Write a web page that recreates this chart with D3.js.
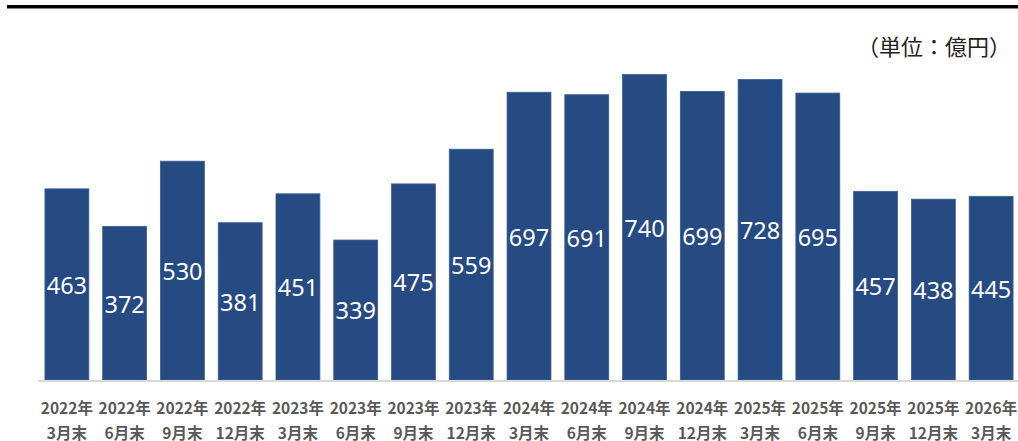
<!DOCTYPE html>
<html>
<head>
<meta charset="utf-8">
<script src="https://cdn.jsdelivr.net/npm/d3@7"></script>
<style>
  html, body { margin: 0; padding: 0; background: #fff; }
  svg { display: block; }
</style>
</head>
<body>
<svg id="chart" width="1018" height="441"></svg>
<script>
// Quarter-end balances (億円)
const years = ["2022年","2022年","2022年","2022年","2023年","2023年","2023年","2023年",
               "2024年","2024年","2024年","2024年","2025年","2025年","2025年","2025年","2026年"];
const months = ["3月末","6月末","9月末","12月末","3月末","6月末","9月末","12月末",
                "3月末","6月末","9月末","12月末","3月末","6月末","9月末","12月末","3月末"];
const values = [463,372,530,381,451,339,475,559,697,691,740,699,728,695,457,438,445];
const unitLabel = "（単位：億円）";

const svg = d3.select("#chart");
const W = 1018, H = 441;
const baseY = 380;

const keys = values.map((_, i) => i);

const x = d3.scaleBand()
  .domain(keys)
  .range([38, 1020])
  .paddingInner(0.24)
  .paddingOuter(0.12);

const y = d3.scaleLinear()
  .domain([0, 740])
  .range([baseY, 74.5]);

// heading rule
svg.append("rect")
  .attr("x", 7).attr("y", 5)
  .attr("width", W - 7).attr("height", 3.5)
  .attr("fill", "#000");

// unit note
svg.append("text")
  .attr("x", 1011).attr("y", 55)
  .attr("text-anchor", "end")
  .attr("font-family", "'Noto Sans CJK JP', sans-serif")
  .attr("font-size", 22)
  .attr("fill", "#222")
  .text(unitLabel);

// bars
svg.append("g").selectAll("rect")
  .data(values)
  .join("rect")
  .attr("x", (d, i) => x(i))
  .attr("y", d => y(d))
  .attr("width", x.bandwidth())
  .attr("height", d => baseY - y(d))
  .attr("fill", "#264a82")
  .attr("stroke", "#3a5e94")
  .attr("stroke-width", 0.8);

// value labels, centred in each bar
svg.append("g").selectAll("text")
  .data(values)
  .join("text")
  .attr("x", (d, i) => x(i) + x.bandwidth() / 2)
  .attr("y", d => (y(d) + baseY) / 2 + 1)
  .attr("dy", "0.36em")
  .attr("text-anchor", "middle")
  .attr("font-family", "'Noto Sans', 'Open Sans', sans-serif")
  .attr("font-size", 23.5)
  .attr("fill", "#fff")
  .text(d => d);

// baseline axis
const axis = d3.axisBottom(x).tickSize(0).tickFormat("");
const gAxis = svg.append("g")
  .attr("transform", `translate(0,${baseY + 1})`)
  .call(axis);
gAxis.select(".domain")
  .attr("stroke", "#d9d9d9")
  .attr("stroke-width", 2)
  .attr("d", `M38,0H1018`);

// two-line category labels
const lab = svg.append("g")
  .attr("font-family", "'Noto Sans CJK JP', sans-serif")
  .attr("font-weight", "bold")
  .attr("font-size", 15.5)
  .attr("fill", "#595959")
  .attr("text-anchor", "middle");

lab.selectAll("text.yr")
  .data(keys)
  .join("text")
  .attr("class", "yr")
  .attr("x", i => x(i) + x.bandwidth() / 2)
  .attr("y", 414)
  .text(i => years[i]);

lab.selectAll("text.mo")
  .data(keys)
  .join("text")
  .attr("class", "mo")
  .attr("x", i => x(i) + x.bandwidth() / 2)
  .attr("y", 438.5)
  .text(i => months[i]);
</script>
</body>
</html>
